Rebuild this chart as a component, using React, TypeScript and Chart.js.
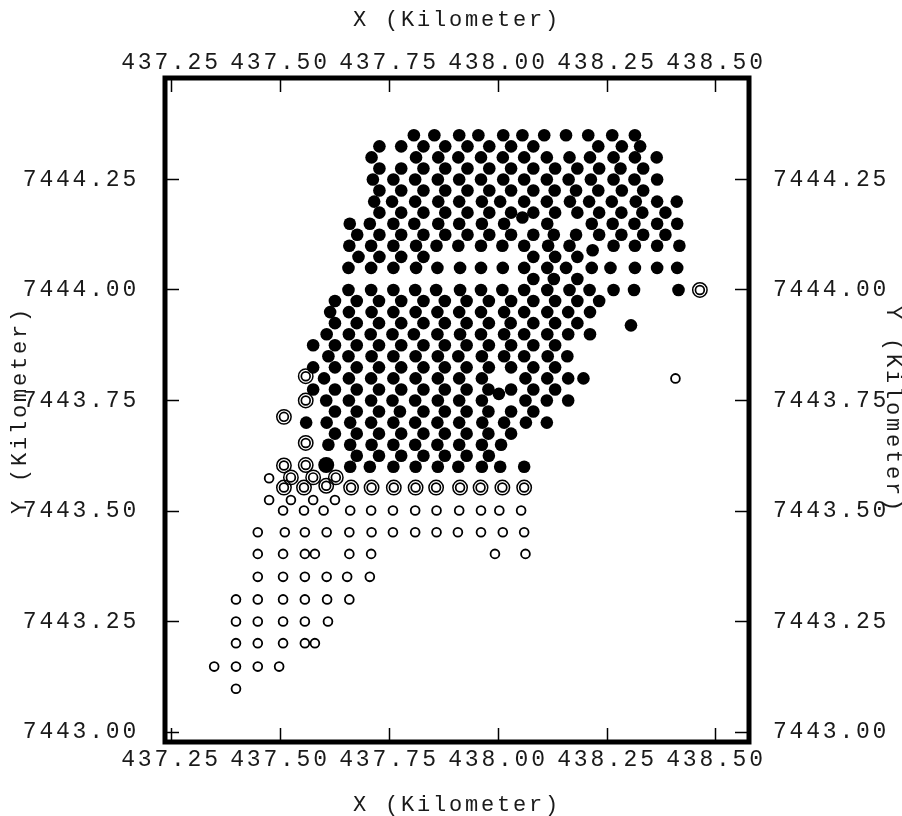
import React, { useEffect, useRef } from "react";
import { Chart, registerables } from "chart.js";

Chart.register(...registerables);

const xTicks = [437.25, 437.5, 437.75, 438.0, 438.25, 438.5];
const yTicks = [7443.0, 7443.25, 7443.5, 7443.75, 7444.0, 7444.25];

const filledRowY = [
  7444.35, 7444.325, 7444.3, 7444.275, 7444.25, 7444.225, 7444.2, 7444.175, 7444.15, 7444.125,
  7444.1, 7444.075, 7444.05, 7444.025, 7444.0, 7443.975, 7443.95, 7443.925, 7443.9, 7443.875,
  7443.85, 7443.825, 7443.8, 7443.775, 7443.75, 7443.725, 7443.7, 7443.675, 7443.65, 7443.625, 7443.6,
];
const filledRowX = [
  [437.807, 437.854, 437.911, 437.955, 438.012, 438.056, 438.106, 438.156, 438.207, 438.262, 438.314],
  [437.728, 437.778, 437.829, 437.879, 437.93, 437.98, 438.03, 438.081, 438.23, 438.284, 438.326],
  [437.71, 437.812, 437.863, 437.909, 437.961, 438.011, 438.06, 438.112, 438.164, 438.211, 438.265, 438.314, 438.364],
  [437.728, 437.778, 437.829, 437.879, 437.93, 437.98, 438.03, 438.081, 438.131, 438.182, 438.232, 438.281, 438.333],
  [437.713, 437.76, 437.81, 437.862, 437.911, 437.961, 438.012, 438.06, 438.112, 438.162, 438.213, 438.265, 438.313, 438.365],
  [437.728, 437.778, 437.829, 437.879, 437.93, 437.98, 438.03, 438.081, 438.13, 438.179, 438.23, 438.284, 438.333],
  [437.716, 437.757, 437.81, 437.863, 437.911, 437.963, 438.005, 438.06, 438.112, 438.165, 438.209, 438.261, 438.316, 438.365, 438.41],
  [437.728, 437.778, 437.829, 437.879, 437.93, 437.98, 438.03, 438.081, 438.131, 438.182, 438.232, 438.283, 438.331, 438.384],
  [437.66, 437.706, 437.76, 437.808, 437.863, 437.911, 437.963, 438.014, 438.113, 438.215, 438.263, 438.313, 438.365, 438.411],
  [437.677, 437.728, 437.778, 437.829, 437.879, 437.93, 437.98, 438.03, 438.081, 438.128, 438.179, 438.232, 438.283, 438.333, 438.384],
  [437.659, 437.709, 437.76, 437.812, 437.859, 437.909, 437.961, 438.01, 438.06, 438.115, 438.164, 438.265, 438.314, 438.365, 438.416],
  [437.68, 437.728, 437.778, 437.829, 438.081, 438.131, 438.182],
  [437.657, 437.709, 437.76, 437.812, 437.861, 437.913, 437.961, 438.011, 438.06, 438.113, 438.156, 438.215, 438.258, 438.314, 438.365, 438.411],
  [438.081, 438.128, 438.182],
  [437.657, 437.709, 437.76, 437.81, 437.858, 437.913, 437.961, 438.01, 438.06, 438.113, 438.164, 438.21, 438.265, 438.312, 438.414],
  [437.626, 437.676, 437.727, 437.778, 437.829, 437.878, 437.928, 437.979, 438.03, 438.081, 438.131, 438.182, 438.232],
  [437.615, 437.658, 437.71, 437.76, 437.811, 437.861, 437.911, 437.961, 438.014, 438.06, 438.113, 438.161, 438.211],
  [437.626, 437.676, 437.727, 437.778, 437.829, 437.878, 437.928, 437.979, 438.029, 438.081, 438.131, 438.182],
  [437.607, 437.658, 437.708, 437.758, 437.807, 437.861, 437.913, 437.961, 438.014, 438.06, 438.113, 438.161, 438.211],
  [437.576, 437.626, 437.676, 437.727, 437.778, 437.829, 437.878, 437.928, 437.979, 438.03, 438.081, 438.131],
  [437.611, 437.657, 437.71, 437.76, 437.811, 437.862, 437.909, 437.963, 438.014, 438.06, 438.114, 438.159],
  [437.576, 437.626, 437.676, 437.727, 437.778, 437.829, 437.878, 437.928, 437.979, 438.03, 438.081, 438.131],
  [437.601, 437.658, 437.709, 437.76, 437.811, 437.862, 437.911, 437.963, 438.063, 438.113, 438.161, 438.196],
  [437.576, 437.626, 437.676, 437.727, 437.778, 437.829, 437.878, 437.928, 437.978, 438.03, 438.081, 438.131],
  [437.606, 437.658, 437.709, 437.758, 437.81, 437.862, 437.911, 437.963, 438.063, 438.112, 438.161],
  [437.626, 437.676, 437.727, 437.775, 437.829, 437.878, 437.928, 437.978, 438.03, 438.081],
  [437.56, 437.607, 437.661, 437.709, 437.76, 437.81, 437.861, 437.911, 437.964, 438.014, 438.064, 438.112],
  [437.626, 437.676, 437.727, 437.778, 437.829, 437.878, 437.928, 437.978, 438.03],
  [437.611, 437.661, 437.71, 437.76, 437.81, 437.861, 437.911, 437.963, 438.007],
  [437.676, 437.727, 437.778, 437.829, 437.878, 437.928, 437.979],
  [437.661, 437.706, 437.76, 437.811, 437.862, 437.909, 437.963, 438.005, 438.06],
];
const extraFilledX = [438.056, 438.217, 438.305, 438.002];
const extraFilledY = [7444.164, 7444.09, 7443.92, 7443.765];

const bigFilledX = [437.606];
const bigFilledY = [7443.604];

const openRowY = [7443.574, 7443.525, 7443.501, 7443.452, 7443.403, 7443.351, 7443.3, 7443.25, 7443.201, 7443.148, 7443.098];
const openRowX = [
  [437.475],
  [437.475, 437.525, 437.576, 437.626],
  [437.507, 437.555, 437.6, 437.661, 437.709, 437.759, 437.81, 437.859, 437.911, 437.961, 438.003, 438.053],
  [437.449, 437.511, 437.557, 437.607, 437.659, 437.71, 437.759, 437.81, 437.859, 437.908, 437.961, 438.011, 438.06],
  [437.449, 437.507, 437.557, 437.58, 437.659, 437.709, 437.993, 438.063],
  [437.449, 437.507, 437.557, 437.607, 437.654, 437.706],
  [437.399, 437.449, 437.507, 437.557, 437.608, 437.659],
  [437.399, 437.449, 437.507, 437.557, 437.61],
  [437.399, 437.449, 437.507, 437.557, 437.58],
  [437.349, 437.399, 437.449, 437.498],
  [437.399],
];
const soloOpenX = [438.407];
const soloOpenY = [7443.8];

const ringX = [
  438.463, 437.559, 437.559, 437.509, 437.559, 437.509, 437.559, 437.525, 437.576, 437.628, 437.509,
  437.555, 437.606, 437.663, 437.71, 437.761, 437.811, 437.858, 437.913, 437.96, 438.01, 438.06,
];
const ringY = [
  7444.0, 7443.805, 7443.75, 7443.713, 7443.654, 7443.603, 7443.604, 7443.576, 7443.576, 7443.576, 7443.553,
  7443.553, 7443.557, 7443.553, 7443.553, 7443.553, 7443.553, 7443.553, 7443.553, 7443.553, 7443.553, 7443.553,
];

const axisTitleX = "X (Kilometer)";
const axisTitleY = "Y (Kilometer)";

const FONT = { family: "'Liberation Mono', monospace", size: 23, weight: "normal" as const };
const SPACING = "2.8px";
const TEXT_COLOR = "#1a1a1a";

function flatten(rowY: number[], rowX: number[][]) {
  const out: { x: number; y: number }[] = [];
  rowY.forEach((y, i) => rowX[i].forEach((x) => out.push({ x, y })));
  return out;
}
function zip(xs: number[], ys: number[]) {
  return xs.map((x, i) => ({ x, y: ys[i] }));
}

const frame = {
  id: "frame",
  beforeLayout(c: any) {
    c.ctx.letterSpacing = SPACING;
  },
  beforeDraw(c: any) {
    c.ctx.letterSpacing = SPACING;
  },
  afterDraw(c: any) {
    const { ctx, chartArea: a } = c;
    ctx.save();
    ctx.strokeStyle = "#000";
    ctx.lineWidth = 5;
    ctx.strokeRect(a.left, a.top, a.right - a.left, a.bottom - a.top);
    ctx.restore();
  },
};

function axis(position: string, size: number, padding: number, titleText: string, titleTop: number, ticks: number[], min: number, max: number) {
  const horizontal = position === "top" || position === "bottom";
  return {
    type: "linear" as const,
    position,
    min,
    max,
    title: {
      display: true,
      text: titleText,
      color: TEXT_COLOR,
      font: { ...FONT, size: 22, lineHeight: 1 },
      padding: { top: titleTop, bottom: 0 },
    },
    border: { display: false },
    grid: { drawOnChartArea: false, drawTicks: true, tickLength: -14, tickWidth: 1.5, tickColor: "#000" },
    ticks: {
      color: TEXT_COLOR,
      font: FONT,
      padding,
      autoSkip: false,
      maxRotation: 0,
      minRotation: 0,
      callback: (v: number | string) => Number(v).toFixed(2),
    },
    afterBuildTicks(s: any) {
      s.ticks = ticks.map((value) => ({ value }));
    },
    afterFit(s: any) {
      if (horizontal) s.height = size;
      else s.width = size;
    },
  };
}

export default function App() {
  const ref = useRef<HTMLCanvasElement>(null);
  useEffect(() => {
    const xMin = 437.2362, xMax = 438.5757, yMin = 7442.9774, yMax = 7444.4796;
    const chart = new Chart(ref.current!, {
      type: "scatter",
      data: {
        datasets: [
          {
            data: [...flatten(filledRowY, filledRowX), ...zip(extraFilledX, extraFilledY)],
            backgroundColor: "#000",
            borderColor: "#000",
            borderWidth: 0,
            pointRadius: 6.3,
          },
          { data: zip(bigFilledX, bigFilledY), backgroundColor: "#000", borderColor: "#000", borderWidth: 0, pointRadius: 8 },
          {
            data: [...flatten(openRowY, openRowX), ...zip(soloOpenX, soloOpenY)],
            backgroundColor: "transparent",
            borderColor: "#000",
            borderWidth: 1.8,
            pointRadius: 4.4,
          },
          { data: zip(ringX, ringY), backgroundColor: "transparent", borderColor: "#000", borderWidth: 1.5, pointRadius: 7.2 },
          { data: zip(ringX, ringY), backgroundColor: "transparent", borderColor: "#000", borderWidth: 1.7, pointRadius: 4.4 },
        ],
      },
      options: {
        responsive: false,
        animation: false,
        layout: { padding: 0 },
        plugins: { legend: { display: false }, tooltip: { enabled: false } },
        scales: {
          x: axis("bottom", 74, 18, axisTitleX, 5, xTicks, xMin, xMax),
          xTop: axis("top", 78, 15, axisTitleX, 9, xTicks, xMin, xMax),
          y: axis("left", 165, 40, axisTitleY, 9, yTicks, yMin, yMax),
          yRight: axis("right", 153, 38, axisTitleY, -2, yTicks, yMin, yMax),
        } as any,
      },
      plugins: [frame],
    } as any);
    return () => chart.destroy();
  }, []);
  return (
    <canvas
      ref={ref}
      width={902}
      height={816}
      style={{ position: "absolute", left: 0, top: 0, display: "block", width: 902, height: 816 }}
    />
  );
}
